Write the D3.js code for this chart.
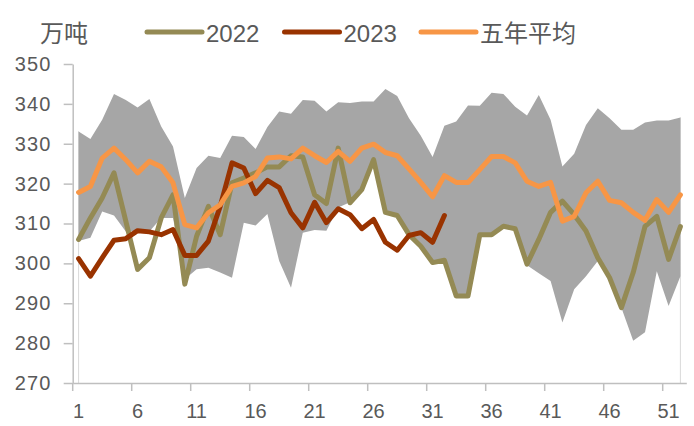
<!DOCTYPE html>
<html>
<head>
<meta charset="utf-8">
<script src="https://cdn.jsdelivr.net/npm/d3@7"></script>
<style>
  html, body { margin: 0; padding: 0; background: #fff; }
  svg text { font-family: "Liberation Sans", Arial, sans-serif; fill: #595959; }
  svg text.cjk { font-family: "Noto Sans CJK SC", sans-serif; }
</style>
</head>
<body>
<div class="graph"></div>
<script>
// ========== Data ==========
const weeks = d3.range(1, 53);
const tickWeeks = [1, 6, 11, 16, 21, 26, 31, 36, 41, 46, 51];
const yTicks = [270, 280, 290, 300, 310, 320, 330, 340, 350];

const rangeMax = [333.1, 331.2, 336, 342.5, 341, 339.1, 341.2, 334.3, 329.3, 316.4,
  323.9, 327, 326.4, 332, 331.7, 328.7, 334.2, 338.1, 337.5, 341,
  340.8, 338.1, 340.4, 340.2, 340.6, 340.6, 343.7, 342, 336.4, 332,
  326.7, 334.5, 335.6, 339.6, 339.5, 342.8, 342.5, 339.3, 337.1, 342.2,
  336, 324.3, 327.5, 334.7, 338.9, 336.4, 333.5, 333.5, 335.3, 335.8,
  335.8, 336.6];

const rangeMin = [305.6, 306.4, 313, 312, 308, 308, 308, 311.4, 311.4, 296,
  298.5, 298.9, 297.7, 296.4, 310.2, 309.5, 312.4, 300.6, 293.9, 307.7,
  308.4, 308.2, 314, 315.3, 318.5, 326, 312.8, 312, 307.2, 304.3,
  300.2, 300.8, 291.8, 291.8, 307.2, 307.2, 309.3, 308.7, 299.5, 297.5,
  295.6, 285.2, 293.5, 296.8, 300.6, 295.5, 288.9, 280.6, 282.7, 298,
  289.3, 296.8];

const values2022 = [306, 311.4, 316.4, 322.7, 310.6, 298.5, 301.4, 311.4, 317.2, 294.8,
  306.8, 314.3, 307.2, 320.2, 321.4, 322.7, 324.2, 324.2, 327, 326.7,
  317.2, 315, 328.9, 315.2, 318.5, 326, 312.8, 312, 307.2, 304.3,
  300.2, 300.8, 291.8, 291.8, 307.2, 307.2, 309.3, 308.7, 299.8, 306,
  312.8, 315.6, 312.2, 308.1, 301.4, 296.4, 288.9, 297.7, 309.3, 311.8,
  301, 309.2];

const values2023 = [301.2, 296.8, 301.4, 305.8, 306.2, 308.2, 307.9, 307.2, 308.5, 302,
  302, 305.6, 314.3, 325.2, 323.9, 317.5, 320.8, 319, 312.7, 308.9,
  315.3, 310.2, 313.7, 312.2, 308.7, 311, 305.3, 303.3, 307, 307.7,
  305.3, 312];

const valuesAvg = [317.8, 319.3, 326.4, 328.9, 326, 322.7, 325.6, 324.2, 320.2, 309.7,
  308.9, 312.7, 314.7, 319.3, 320.2, 321.8, 326.4, 326.7, 326.2, 328.9,
  327, 325.3, 328.1, 325.6, 328.9, 329.9, 327.8, 327, 323.7, 320.3,
  316.7, 322, 320.3, 320.3, 323.5, 326.8, 326.8, 325.2, 320.6, 319.3,
  320.3, 310.6, 311.8, 317.7, 320.6, 315.8, 315.2, 312.8, 310.8, 316,
  312.8, 317.2];

const series = [
  {name: '2022', values: values2022, color: '#948a54'},
  {name: '2023', values: values2023, color: '#993300'},
  {name: '五年平均', values: valuesAvg, color: '#f79646'}
];

// ========== Config ==========
const config = {
  width: 694,
  height: 426,
  plot: {left: 72.7, right: 686.3, top: 64, bottom: 383},
  axisColor: '#bfbfbf',
  bandColor: '#a6a6a6',
  lineWidth: 5
};

// ========== Scales ==========
const x = d3.scaleBand()
  .domain(weeks)
  .range([config.plot.left, config.plot.right])
  .paddingInner(0)
  .paddingOuter(0);
const cx = d => x(d) + x.bandwidth()/2;

const y = d3.scaleLinear()
  .domain([270, 350])
  .range([config.plot.bottom, config.plot.top]);

// ========== SVG ==========
const svg = d3.select('.graph')
  .append('svg')
  .attr('width', config.width)
  .attr('height', config.height);

// ========== Range Band ==========
// thin edges of the band at both ends
[weeks[0], weeks[weeks.length - 1]].forEach(w =>{
  svg.append('line')
    .attr('x1', cx(w)).attr('x2', cx(w))
    .attr('y1', y(rangeMax[w - 1])).attr('y2', y(270))
    .attr('stroke', '#d9d9d9')
    .attr('stroke-width', 1);
});

const area = d3.area()
  .x(d => cx(d))
  .y0(d => y(rangeMin[d - 1]))
  .y1(d => y(rangeMax[d - 1]));

svg.append('path')
  .attr('d', area(weeks))
  .attr('fill', config.bandColor);

// ========== Axes ==========
const yAxis = svg.append('g')
  .attr('transform', `translate(${config.plot.left},0)`)
  .call(d3.axisLeft(y).tickValues(yTicks).tickSize(9).tickSizeOuter(0).tickPadding(12));

const xAxis = svg.append('g')
  .attr('transform', `translate(0,${config.plot.bottom})`)
  .call(d3.axisBottom(x).tickValues(tickWeeks).tickSize(0).tickSizeOuter(0).tickPadding(21));

[yAxis, xAxis].forEach(g =>{
  g.select('.domain').attr('stroke', config.axisColor).attr('stroke-width', 1.5);
  g.selectAll('.tick line').attr('stroke', config.axisColor).attr('stroke-width', 1.5);
  g.selectAll('.tick text')
    .style('font-size', '20px')
    .attr('fill', '#595959');
});

// y labels in the reference are a little wider
yAxis.selectAll('.tick text').style('letter-spacing', '1.2px');

// x ticks sit on category boundaries
xAxis.selectAll('.boundary')
  .data(tickWeeks)
  .join('line')
  .attr('class', 'boundary')
  .attr('x1', d => x(d)).attr('x2', d => x(d))
  .attr('y1', 0).attr('y2', 8)
  .attr('stroke', config.axisColor)
  .attr('stroke-width', 1.5);

// ========== Lines ==========
const lineGenerator = d3.line()
  .x((d, i) => cx(weeks[i]))
  .y(d => y(d));

svg.selectAll('.series')
  .data(series)
  .join('path')
  .attr('class', 'series')
  .attr('d', d => lineGenerator(d.values))
  .attr('fill', 'none')
  .attr('stroke', d => d.color)
  .attr('stroke-width', config.lineWidth)
  .attr('stroke-linejoin', 'round')
  .attr('stroke-linecap', 'round');

// ========== Legend ==========
svg.append('text')
  .attr('class', 'cjk')
  .attr('x', 40)
  .attr('y', 41.5)
  .style('font-size', '24px')
  .text('万吨');

const legendX = [147, 284.5, 421];
const legend = svg.selectAll('.legend')
  .data(series)
  .join('g')
  .attr('class', 'legend')
  .attr('transform', (d, i) => `translate(${legendX[i]},32)`);

legend.append('line')
  .attr('x1', 0).attr('x2', 55)
  .attr('stroke', d => d.color)
  .attr('stroke-width', 5)
  .attr('stroke-linecap', 'round');

legend.append('text')
  .attr('class', d => /\d/.test(d.name) ? '' : 'cjk')
  .attr('x', 59)
  .attr('y', 9.5)
  .style('font-size', '24px')
  .text(d => d.name);
</script>
</body>
</html>
